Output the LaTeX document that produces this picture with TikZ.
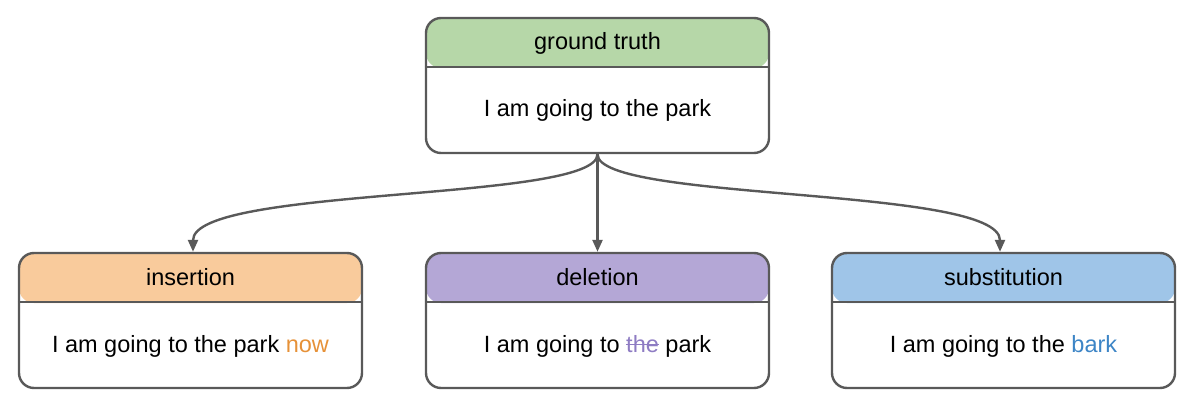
\documentclass[tikz,border=0pt]{standalone}
\usepackage{fontspec}
\setmainfont{Liberation Sans}
\usetikzlibrary{arrows.meta}
\definecolor{edge}{HTML}{595959}
\definecolor{hgreen}{HTML}{B6D7A8}
\definecolor{horange}{HTML}{F9CB9C}
\definecolor{hpurple}{HTML}{B4A7D6}
\definecolor{hblue}{HTML}{9FC5E8}
\definecolor{torange}{HTML}{E69138}
\definecolor{tpurple}{HTML}{8E7CC3}
\definecolor{tblue}{HTML}{3D85C6}
\newcommand\mystrike[1]{\setbox0\hbox{#1}\rlap{#1}\rule[0.28em]{\wd0}{1.6pt}}
\tikzset{
  card/.style={draw=edge, line width=2.4pt, rounded corners=15pt, minimum width=343pt, minimum height=135pt, inner sep=0pt,
    path picture={\fill[#1] (path picture bounding box.north west) rectangle ([yshift=-50pt]path picture bounding box.north east);}},
  lbl/.style={font=\fontsize{23.5}{27}\selectfont, text=black, inner sep=0pt, anchor=base},
  sep/.style={draw=edge, line width=2.4pt},
  link/.style={draw=edge, line width=2.4pt, -{Triangle[length=12pt,width=10pt]}},
}
\begin{document}
\begin{tikzpicture}[x=1pt,y=-1pt]
\useasboundingbox (0,0) rectangle (1188,406);
% nodes
\node[card=hgreen] (gt) at (597.5,85.5) {};
\node[card=horange] (ins) at (190.5,320.5) {};
\node[card=hpurple] (del) at (597.5,320.5) {};
\node[card=hblue] (sub) at (1003.5,320.5) {};
% separators
\foreach \n in {gt,ins,del,sub}{
  \draw[sep] ([yshift=-50pt]\n.north west) -- ([yshift=-50pt]\n.north east);
}
% texts
\node[lbl] (gth) at (597.5,50) {ground truth};
\node[lbl] (gtb) at (597.5,117) {I am going to the park};
\node[lbl] (insh) at (190.5,285) {insertion};
\node[lbl] (insb) at (190.5,352) {I am going to the park \textcolor{torange}{now}};
\node[lbl] (delh) at (597.5,285) {deletion};
\node[lbl] (delb) at (597.5,352) {I am going to \textcolor{tpurple}{\mystrike{the}} park};
\node[lbl] (subh) at (1003.5,285) {substitution};
\node[lbl] (subb) at (1003.5,352) {I am going to the \textcolor{tblue}{bark}};
% connectors
\draw[link] (gt.south) .. controls ([yshift=-48pt]gt.south) and ([xshift=2.5pt,yshift=66pt]ins.north) .. ([xshift=2.5pt]ins.north);
\draw[link] (gt.south) -- (del.north);
\draw[link] (gt.south) .. controls ([yshift=-48pt]gt.south) and ([xshift=-3.5pt,yshift=66pt]sub.north) .. ([xshift=-3.5pt]sub.north);
\end{tikzpicture}
\end{document}
